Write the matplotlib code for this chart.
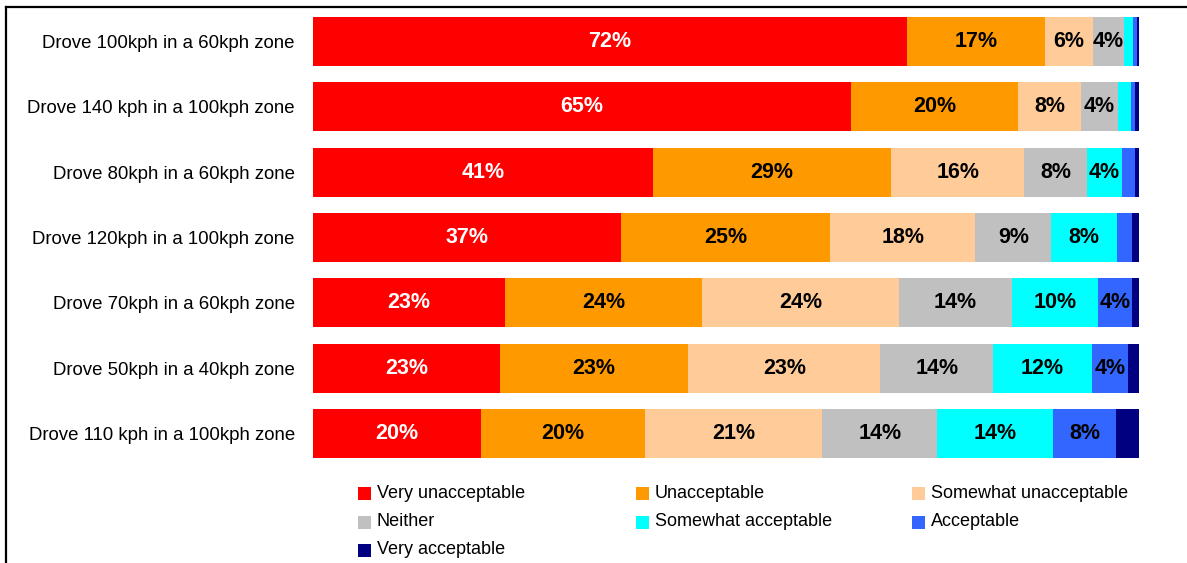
import matplotlib
matplotlib.use("Agg")
import matplotlib.pyplot as plt
from matplotlib.patches import Rectangle
from matplotlib.lines import Line2D
import numpy as np

plt.rcParams['font.family'] = ['Liberation Sans', 'DejaVu Sans']

categories = [
    "Drove 100kph in a 60kph zone",
    "Drove 140 kph in a 100kph zone",
    "Drove 80kph in a 60kph zone",
    "Drove 120kph in a 100kph zone",
    "Drove 70kph in a 60kph zone",
    "Drove 50kph in a 40kph zone",
    "Drove 110 kph in a 100kph zone",
]
series_names = ["Very unacceptable", "Unacceptable", "Somewhat unacceptable",
                "Neither", "Somewhat acceptable", "Acceptable", "Very acceptable"]
very_unacceptable = [71.9, 65.1, 41.3, 37.3, 23.2, 22.6, 20.3]
unacceptable = [16.7, 20.3, 28.8, 25.3, 23.8, 22.8, 19.9]
somewhat_unacceptable = [5.8, 7.6, 16.2, 17.6, 23.8, 23.2, 21.4]
neither = [3.75, 4.4, 7.6, 9.2, 13.7, 13.7, 13.9]
somewhat_acceptable = [1.1, 1.6, 4.2, 7.9, 10.3, 11.9, 14.0]
acceptable = [0.4, 0.5, 1.6, 1.9, 4.2, 4.4, 7.6]
very_acceptable = [0.3, 0.5, 0.5, 0.8, 0.8, 1.3, 2.8]

series = [very_unacceptable, unacceptable, somewhat_unacceptable, neither,
          somewhat_acceptable, acceptable, very_acceptable]
colors = ["#FF0000", "#FF9900", "#FFCC99", "#C0C0C0", "#00FFFF", "#3366FF", "#000080"]
text_colors = ["white", "black", "black", "black", "black", "black", "black"]

W, H = 1187, 563
fig = plt.figure(figsize=(W / 100, H / 100), dpi=100)
ax = fig.add_axes([313 / W, 1 - 466 / H, (1139 - 313) / W, (466 - 8.8) / H])

y = np.arange(len(categories))
data = np.array(series, dtype=float)
totals = data.sum(axis=0)
left = np.zeros(len(categories))
for vals, col, tc in zip(data, colors, text_colors):
    pct = vals / totals * 100
    ax.barh(y, pct, left=left, height=0.75, color=col, edgecolor='none')
    for yi, l, v in zip(y, left, pct):
        if v >= 3.5:
            ax.text(l + v / 2, yi, f"{int(round(v))}%", ha='center', va='center',
                    color=tc, fontsize=15.5, fontweight='bold')
    left += pct

ax.set_xlim(0, 100)
ax.set_ylim(len(categories) - 0.5, -0.5)
ax.set_yticks(y)
ax.set_yticklabels(categories, fontsize=13.4)
ax.tick_params(axis='y', length=0, pad=13)
ax.set_xticks([])
for s in ax.spines.values():
    s.set_visible(False)

# legend (row-major)
col_x = [358, 636, 912]
row_y = [493, 522, 550]
for i, (name, col) in enumerate(zip(series_names, colors)):
    r, c = divmod(i, 3)
    x0 = col_x[c]
    yc = row_y[r]
    fig.patches.append(Rectangle((x0 / W, 1 - (yc + 6.5) / H), 13 / W, 13 / H,
                                 transform=fig.transFigure, facecolor=col,
                                 edgecolor='none'))
    fig.text((x0 + 19) / W, 1 - yc / H, name, fontsize=13, va='center', ha='left')

# frame lines
fig.lines.append(Line2D([6 / W, 1], [1 - 7 / H, 1 - 7 / H], transform=fig.transFigure,
                        color='black', linewidth=1.6))
fig.lines.append(Line2D([6 / W, 6 / W], [1 - 7 / H, 0], transform=fig.transFigure,
                        color='black', linewidth=1.6))

fig.savefig("out.png", dpi=100)
